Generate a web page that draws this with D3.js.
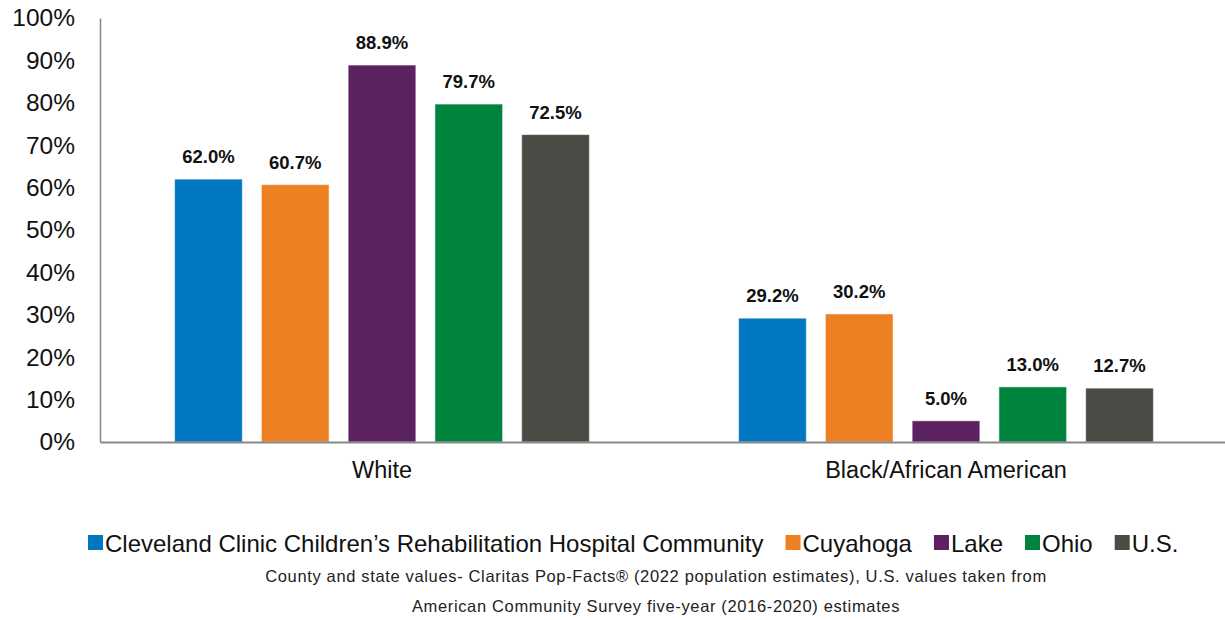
<!DOCTYPE html>
<html>
<head>
<meta charset="utf-8">
<script src="https://cdn.jsdelivr.net/npm/d3@7"></script>
<style>
  body { margin: 0; background: #fff; }
  svg { display: block; }
</style>
</head>
<body>
<div id="chart"></div>
<script>
// data
var groups = ["White", "Black/African American"];
var seriesNames = ["Cleveland Clinic Children\u2019s Rehabilitation Hospital Community", "Cuyahoga", "Lake", "Ohio", "U.S."];
var seriesColors = ["#0077c0", "#ee8024", "#5c2160", "#00843d", "#4b4b45"];
var whiteValues = [62.0, 60.7, 88.9, 79.7, 72.5];
var blackValues = [29.2, 30.2, 5.0, 13.0, 12.7];
var yTicks = [0, 10, 20, 30, 40, 50, 60, 70, 80, 90, 100];
var footnote = [
  "County and state values- Claritas Pop-Facts\u00ae (2022 population estimates), U.S. values taken from",
  "American Community Survey five-year (2016-2020) estimates"
];

var width = 1225, height = 620;
var margin = {top: 18, right: -3, bottom: 178, left: 100};
var w = width - margin.left - margin.right,
    h = height - margin.top - margin.bottom;

var svg = d3.select("#chart").append("svg")
    .attr("width", width)
    .attr("height", height)
    .style("font-family", "'Liberation Sans', Arial, sans-serif");

var g = svg.append("g")
    .attr("transform", "translate(" + margin.left + "," + margin.top + ")");

var x0 = d3.scaleBand().domain(groups).range([0, w]);
var x1 = d3.scaleBand().domain(seriesNames).range([0, x0.bandwidth()])
    .paddingInner(0.22).paddingOuter(0.86);
var y = d3.scaleLinear().domain([0, 100]).range([h, 0]);
var color = d3.scaleOrdinal().domain(seriesNames).range(seriesColors);

var rows = [whiteValues, blackValues];

// bars
var grp = g.selectAll(".grp")
    .data(groups)
    .enter().append("g")
    .attr("class", "grp")
    .attr("transform", function(d) { return "translate(" + x0(d) + ",0)"; });

grp.selectAll("rect")
    .data(function(d, i) {
        return seriesNames.map(function(s, j) { return {name: s, value: rows[i][j]}; });
    })
    .enter().append("rect")
    .attr("x", function(d) { return x1(d.name); })
    .attr("width", x1.bandwidth())
    .attr("y", function(d) { return y(d.value); })
    .attr("height", function(d) { return h - y(d.value); })
    .attr("fill", function(d) { return color(d.name); })
    .attr("stroke", "rgba(255,255,255,0.5)")
    .attr("stroke-width", 1);

grp.selectAll(".lbl")
    .data(function(d, i) {
        return seriesNames.map(function(s, j) { return {name: s, value: rows[i][j]}; });
    })
    .enter().append("text")
    .attr("class", "lbl")
    .attr("x", function(d) { return x1(d.name) + x1.bandwidth() / 2; })
    .attr("y", function(d) { return y(d.value) - 16; })
    .attr("text-anchor", "middle")
    .style("font-size", "18.5px")
    .style("font-weight", "bold")
    .attr("fill", "#111")
    .text(function(d) { return d.value.toFixed(1) + "%"; });

// y axis
var yAxis = g.append("g")
    .call(d3.axisLeft(y).tickValues(yTicks).tickSize(0).tickPadding(25)
        .tickFormat(function(d) { return d + "%"; }));
yAxis.select(".domain").attr("stroke", "#888").attr("stroke-width", 1.5);
yAxis.selectAll("text")
    .style("font-size", "24.5px")
    .style("font-family", "'Liberation Sans', Arial, sans-serif")
    .attr("fill", "#111");

// x axis
var xAxis = g.append("g")
    .attr("transform", "translate(0," + h + ")")
    .call(d3.axisBottom(x0).tickSize(0).tickPadding(19));
xAxis.select(".domain").attr("stroke", "#888").attr("stroke-width", 2);
xAxis.selectAll("text")
    .style("font-size", "23.5px")
    .style("font-family", "'Liberation Sans', Arial, sans-serif")
    .attr("fill", "#111");

// legend
var legend = svg.append("g").attr("transform", "translate(0,542)");
var lx = 88;
seriesNames.forEach(function(s, i) {
    legend.append("rect")
        .attr("x", lx).attr("y", -7)
        .attr("width", 15).attr("height", 15)
        .attr("fill", seriesColors[i]);
    var t = legend.append("text")
        .attr("x", lx + 17).attr("y", 1)
        .attr("dominant-baseline", "central")
        .style("font-size", "24px")
        .attr("fill", "#111")
        .text(s);
    lx += 17 + t.node().getComputedTextLength() + 22;
});

// footnote
svg.selectAll(".note")
    .data(footnote)
    .enter().append("text")
    .attr("class", "note")
    .attr("x", 656)
    .attr("y", function(d, i) { return 582 + i * 30; })
    .attr("text-anchor", "middle")
    .style("font-size", "16.5px")
    .style("letter-spacing", "0.65px")
    .style("font-family", "'Liberation Sans', Arial, sans-serif")
    .attr("fill", "#222")
    .text(function(d) { return d; });
</script>
</body>
</html>
